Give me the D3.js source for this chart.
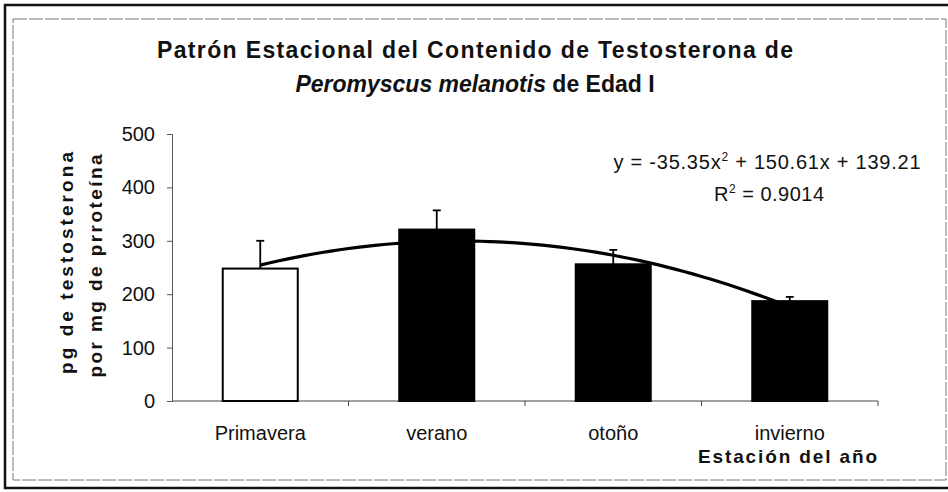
<!DOCTYPE html>
<html>
<head>
<meta charset="utf-8">
<script src="https://cdn.jsdelivr.net/npm/d3@7"></script>
<style>
  body { margin: 0; background: #fff; }
  svg { display: block; font-family: "Liberation Sans", Arial, sans-serif; }
</style>
</head>
<body>
<svg width="948" height="492"></svg>
<script>
// seasons and testosterone content (pg / mg protein)
const seasons = ["Primavera", "verano", "otoño", "invierno"];
const testo = [248, 321, 256, 187];
const errPlus = [52, 36, 27, 8];
const barFill = ["#fff", "#000", "#000", "#000"];
const yTicks = [0, 100, 200, 300, 400, 500];
// trend line: y = -35.35x^2 + 150.61x + 139.21
const coef = [-35.35, 150.61, 139.21];

const svg = d3.select("svg");

// frames (scanned page border + chart area)
svg.append("rect").attr("x", 5).attr("y", 5).attr("width", 960).attr("height", 483)
  .attr("fill", "none").attr("stroke", "#111").attr("stroke-width", 2.5);
svg.append("rect").attr("x", 13).attr("y", 19).attr("width", 933).attr("height", 461)
  .attr("fill", "none").attr("stroke", "#777").attr("stroke-width", 1)
  .attr("stroke-dasharray", "14,2");

const x = d3.scaleBand().domain(seasons).range([172, 878])
  .paddingInner(0.575).paddingOuter(0.2875);
const y = d3.scaleLinear().domain([0, 500]).range([401, 134]);

// y axis
const yAxis = svg.append("g").attr("transform", "translate(172,0)")
  .call(d3.axisLeft(y).tickValues(yTicks).tickSize(5).tickPadding(12));
yAxis.select(".domain").attr("stroke", "#555");
yAxis.selectAll(".tick line").attr("stroke", "#555");
yAxis.selectAll("text").attr("font-size", 20).attr("fill", "#111")
  .attr("font-family", "Liberation Sans, Arial, sans-serif");

// x axis line + category boundary ticks
svg.append("line").attr("x1", 172).attr("x2", 878).attr("y1", y(0)).attr("y2", y(0))
  .attr("stroke", "#444").attr("stroke-width", 1.2);
svg.selectAll(".xtick").data(d3.range(1, seasons.length + 1)).join("line")
  .attr("x1", i => 172 + i * x.step()).attr("x2", i => 172 + i * x.step())
  .attr("y1", y(0)).attr("y2", y(0) + 5)
  .attr("stroke", "#444");

svg.selectAll(".xlab").data(seasons).join("text")
  .attr("x", d => x(d) + x.bandwidth() / 2).attr("y", 440)
  .attr("text-anchor", "middle").attr("font-size", 20).attr("fill", "#111")
  .text(d => d);

// bars
svg.selectAll(".bar").data(seasons).join("rect")
  .attr("x", d => x(d)).attr("width", x.bandwidth())
  .attr("y", (d, i) => y(testo[i])).attr("height", (d, i) => y(0) - y(testo[i]))
  .attr("fill", (d, i) => barFill[i]).attr("stroke", "#000").attr("stroke-width", 2);

// error bars (plus only)
const eb = svg.selectAll(".eb").data(seasons).join("g");
eb.append("line")
  .attr("x1", d => x(d) + x.bandwidth() / 2).attr("x2", d => x(d) + x.bandwidth() / 2)
  .attr("y1", (d, i) => y(testo[i])).attr("y2", (d, i) => y(testo[i] + errPlus[i]))
  .attr("stroke", "#000").attr("stroke-width", 1.8);
eb.append("line")
  .attr("x1", d => x(d) + x.bandwidth() / 2 - 4).attr("x2", d => x(d) + x.bandwidth() / 2 + 4)
  .attr("y1", (d, i) => y(testo[i] + errPlus[i])).attr("y2", (d, i) => y(testo[i] + errPlus[i]))
  .attr("stroke", "#000").attr("stroke-width", 1.8);

// polynomial trend line
const tx = d3.scaleLinear().domain([1, seasons.length])
  .range([x(seasons[0]) + x.bandwidth() / 2, x(seasons[seasons.length - 1]) + x.bandwidth() / 2]);
const poly = t => coef[0] * t * t + coef[1] * t + coef[2];
const ts = d3.range(1, 4.0001, 0.05);
svg.append("path").datum(ts)
  .attr("d", d3.line().x(t => tx(t)).y(t => y(poly(t))))
  .attr("fill", "none").attr("stroke", "#000").attr("stroke-width", 3.2);

// equation and R2
const eq = svg.append("text").attr("x", 767).attr("y", 169).attr("text-anchor", "middle")
  .attr("font-size", 20).attr("fill", "#111")
  .attr("textLength", 307).attr("lengthAdjust", "spacing");
eq.append("tspan").text("y = -35.35x");
eq.append("tspan").attr("font-size", 12).attr("dy", -8).text("2");
eq.append("tspan").attr("dy", 8).text(" + 150.61x + 139.21");

const r2 = svg.append("text").attr("x", 769).attr("y", 201).attr("text-anchor", "middle")
  .attr("font-size", 20).attr("fill", "#111")
  .attr("textLength", 110).attr("lengthAdjust", "spacing");
r2.append("tspan").text("R");
r2.append("tspan").attr("font-size", 12).attr("dy", -8).text("2");
r2.append("tspan").attr("dy", 8).text(" = 0.9014");

// title
svg.append("text").attr("x", 475).attr("y", 58).attr("text-anchor", "middle")
  .attr("font-size", 23).attr("font-weight", "bold").attr("fill", "#111")
  .attr("textLength", 636).attr("lengthAdjust", "spacing")
  .text("Patrón Estacional del Contenido de Testosterona de");
const t2 = svg.append("text").attr("x", 475).attr("y", 92).attr("text-anchor", "middle")
  .attr("font-size", 23).attr("font-weight", "bold").attr("fill", "#111");
t2.append("tspan").attr("font-style", "italic").text("Peromyscus melanotis");
t2.append("tspan").text(" de Edad I");

// axis titles
svg.append("text").attr("transform", "translate(73,263) rotate(-90)")
  .attr("text-anchor", "middle").attr("font-size", 19).attr("font-weight", "bold")
  .attr("fill", "#111").attr("textLength", 222).attr("lengthAdjust", "spacing")
  .text("pg de testosterona");
svg.append("text").attr("transform", "translate(102,266) rotate(-90)")
  .attr("text-anchor", "middle").attr("font-size", 19).attr("font-weight", "bold")
  .attr("fill", "#111").attr("textLength", 223).attr("lengthAdjust", "spacing")
  .text("por mg de prroteína");

svg.append("text").attr("x", 877).attr("y", 463).attr("text-anchor", "end")
  .attr("font-size", 19).attr("font-weight", "bold").attr("fill", "#111")
  .attr("textLength", 179).attr("lengthAdjust", "spacing")
  .text("Estación del año");
</script>
</body>
</html>
